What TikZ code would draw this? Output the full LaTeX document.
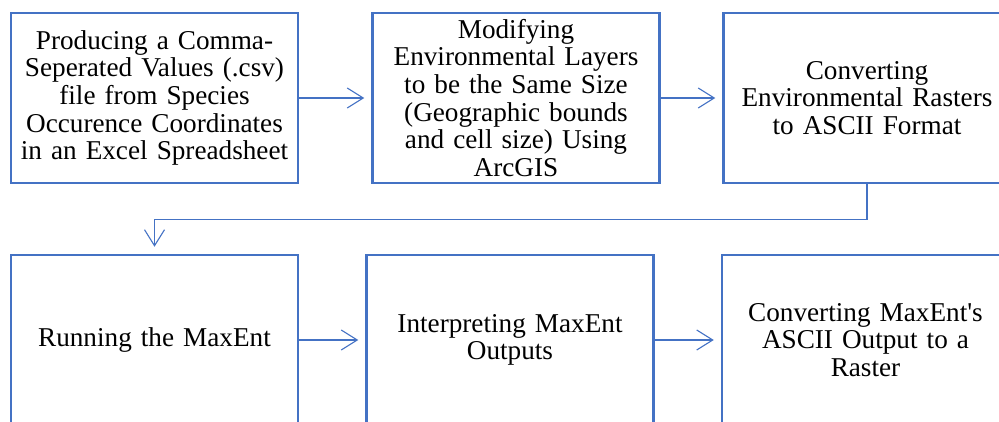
\documentclass[tikz,border=0pt]{standalone}
\usepackage{fontspec}
\setmainfont{Liberation Serif}
\usetikzlibrary{arrows.meta}
\definecolor{boxblue}{HTML}{4472C4}
\tikzset{
  stepbox/.style={draw=boxblue, line width=2.5pt, rectangle, minimum width=287pt,
    minimum height=170pt, text width=284pt, align=center, inner sep=0pt,
    font=\fontsize{27.2}{27.7}\selectfont},
  flow/.style={draw=boxblue, line width=1.1pt, -{Straight Barb[length=16pt,width=20pt]},
    shorten >=7pt}
}
\begin{document}
\begin{tikzpicture}[x=1pt,y=1pt]
    % Frame
    \useasboundingbox (0,0) rectangle (999,421);
    \clip (0,0) rectangle (999,421);

    % Top row
    \node[stepbox] (csv) at (154.5,323) {Producing a Comma-\\Seperated Values (.csv)\\file from Species\\Occurence Coordinates\\in an Excel Spreadsheet};
    \node[stepbox] (modify) at (516,323) {Modifying\\Environmental Layers\\to be the Same Size\\(Geographic bounds\\and cell size) Using\\ArcGIS};
    \node[stepbox] (ascii) at (867,323) {Converting\\Environmental Rasters\\to ASCII Format};

    % Bottom row
    \node[stepbox] (run) at (154.5,81) {Running the MaxEnt};
    \node[stepbox] (interpret) at (510,81) {Interpreting MaxEnt\\Outputs};
    \node[stepbox] (raster) at (865.5,81) {Converting MaxEnt\textquotesingle s\\ASCII Output to a\\Raster};

    % Arrows
    \draw[flow] (csv) -- (modify);
    \draw[flow] (modify) -- (ascii);
    \draw[flow] (ascii.south) -- ++(0,-35) -| (run.north);
    \draw[flow] (run) -- (interpret);
    \draw[flow] (interpret) -- (raster);
\end{tikzpicture}
\end{document}
